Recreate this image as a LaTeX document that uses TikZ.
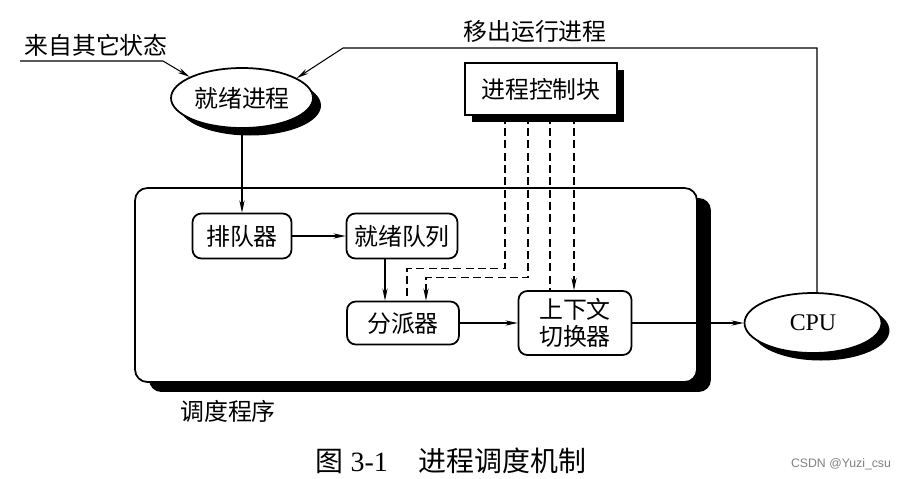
\documentclass[tikz,border=0pt]{standalone}
\usepackage{fontspec}
\setmainfont{Liberation Serif}
\newfontfamily\cjk{Noto Sans CJK SC}
\newfontfamily\marksans{Liberation Sans}
\usepackage{tikz}
\usetikzlibrary{arrows.meta,calc,shapes.geometric,shadows}

\tikzset{
  lbl/.style={font=\cjk\fontsize{13.6pt}{15.5pt}\selectfont, inner sep=1pt},
  procbox/.style={lbl, draw, line width=1pt, rounded corners=5pt, fill=white,
    minimum height=0.9cm, align=center},
  blob/.style={lbl, draw, line width=1pt, ellipse, fill=white, inner sep=0pt,
    drop shadow={shadow xshift=0.16cm, shadow yshift=-0.15cm, opacity=1, fill=black}},
  arr/.style={-{Stealth[length=7pt,width=3pt]}, line width=0.6pt},
  dashline/.style={line width=0.6pt, dash pattern=on 4.5pt off 2.5pt},
}

\begin{document}
\begin{tikzpicture}[x=0.02cm,y=-0.02cm]
  \useasboundingbox (0,0) rectangle (909,478);
  % scheduler frame
  \node[draw, line width=1pt, rounded corners=7pt, fill=white,
    minimum width=11.24cm, minimum height=3.88cm,
    drop shadow={shadow xshift=0.28cm, shadow yshift=-0.2cm, opacity=1, fill=black}]
    (sched) at (416,285) {};
  \node[lbl] (schedlbl) at (228,411) {调度程序};
  % inner boxes
  \node[procbox, minimum width=1.98cm] (queuer) at (242,236) {排队器};
  \node[procbox, minimum width=2.22cm] (rq) at (402,236) {就绪队列};
  \node[procbox, minimum width=2.24cm, minimum height=0.86cm] (disp) at (403,323) {分派器};
  \node[procbox, minimum width=2.26cm, minimum height=1.28cm] (ctx) at (575,323) {上下文\\切换器};
  % process control block
  \node[lbl, draw, line width=1pt, fill=white, minimum width=3.04cm, minimum height=1.04cm,
    drop shadow={shadow xshift=0.14cm, shadow yshift=-0.14cm, opacity=1, fill=black}]
    (pcb) at (541,89) {进程控制块};
  % ellipses
  \node[blob, minimum width=2.84cm, minimum height=1.2cm] (ready) at (242,98) {就绪进程};
  \node[blob, font=\fontsize{13.6pt}{15.5pt}\selectfont, minimum width=2.74cm,
    minimum height=1.2cm] (cpu) at (813,323) {CPU};
  % texts
  \node[lbl] (fromlbl) at (96,45) {来自其它状态};
  \node[lbl] (outlbl) at (535,31) {移出运行进程};
  \coordinate (fromstart) at (20,61);
  \coordinate (frombend) at (163,61);
  \coordinate (outbend) at (343,48);
  % solid connectors
  \draw[arr] (fromstart) -- (frombend) -- (ready.158);
  \draw[arr] ($(cpu.north)+(4,0)$) |- (outbend) -- (ready.20);
  \draw[arr] (ready.south) -- (queuer.north);
  \draw[arr] (queuer) -- (rq);
  \coordinate (rqdown) at ($(rq.south)+(-17,0)$);
  \draw[arr] (rqdown) -- (rqdown |- disp.north);
  \draw[arr] (disp) -- (ctx);
  \draw[arr] (ctx) -- (cpu);
  % dashed connectors
  \draw[dashline] ($(pcb.south)+(-36,0)$) -- ++(0,153) -| ($(disp.north)+(4,0)$);
  \draw[dashline,arr] ($(pcb.south)+(-13,0)$) -- ++(0,162) -| ($(disp.north)+(23,0)$);
  \draw[dashline] ($(pcb.south)+(9,0)$) -- ($(ctx.north)+(-25,0)$);
  \draw[dashline,arr] ($(pcb.south)+(33,0)$) -- ($(ctx.north)+(-1,0)$);
  % caption
  \node[font=\fontsize{15.9pt}{18pt}\selectfont] (caption) at (451,461)
    {{\cjk 图} 3-1\hspace{1.1em}{\cjk 进程调度机制}};
  \node[font=\marksans\fontsize{7pt}{8pt}\selectfont, text=black!50] (mark) at (841,464)
    {CSDN @Yuzi\_csu};
\end{tikzpicture}
\end{document}
